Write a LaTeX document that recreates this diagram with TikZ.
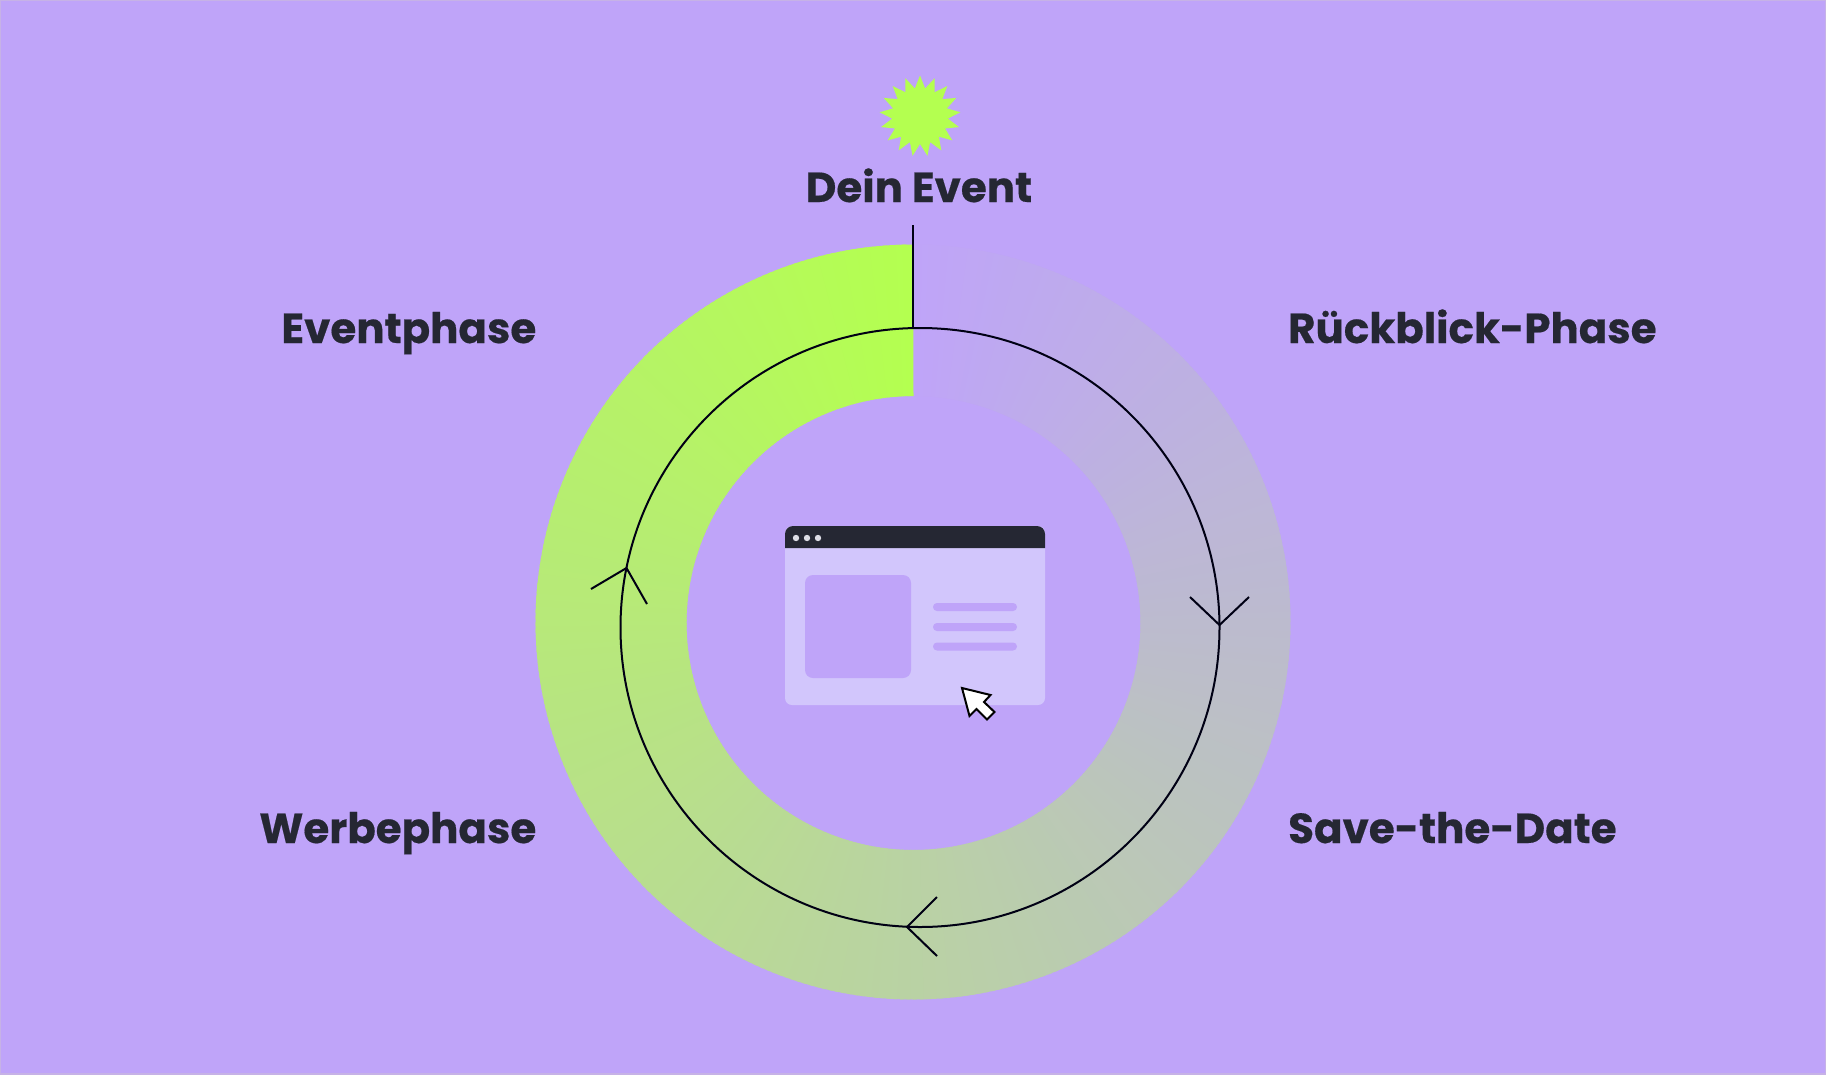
\documentclass[tikz,border=0pt]{standalone}
\usepackage{fontspec}
\setmainfont{Poppins}[BoldFont={Poppins Bold},BoldFeatures={FakeBold=0.4}]
\definecolor{bgc}{HTML}{BFA4F9}
\definecolor{edgec}{HTML}{C6B2E6}
\definecolor{lime}{HTML}{B4FF50}
\definecolor{ink}{HTML}{252733}
\definecolor{pane}{HTML}{D2C6FC}
\definecolor{dotc}{HTML}{DDDDE6}
\tikzset{
  label text/.style={font=\fontsize{42}{42}\selectfont\bfseries,text=ink,inner sep=0pt},
  cycle line/.style={draw=black!92!blue,line width=2pt},
}
\begin{document}
\begin{tikzpicture}[x=1pt,y=-1pt]
\useasboundingbox (0,0) rectangle (1826,1074);
\fill[bgc] (0,0) rectangle (1826,1074);
\draw[edgec,line width=2pt] (0,0) rectangle (1826,1074);
% gradient ring
\foreach \t in {359,358,...,0}{
  \pgfmathsetmacro\pct{100-\t/3.6}
  \pgfmathsetmacro\aa{90+\t}
  \pgfmathsetmacro\ab{90+\t+1.6}
  \fill[lime!\pct!bgc]
    ({913+377.5*cos(\aa)},{622-377.5*sin(\aa)}) --
    ({913+377.5*cos(\ab)},{622-377.5*sin(\ab)}) --
    ({913.5+227*cos(\ab)},{623-227*sin(\ab)}) --
    ({913.5+227*cos(\aa)},{623-227*sin(\aa)}) -- cycle;
}
% star
\fill[lime] (920,75.5)
  \foreach \k in {0,...,16}{
    -- ({920+28*cos(90+(\k+.5)*21.1765)},{116-28*sin(90+(\k+.5)*21.1765)})
    -- ({920+40.5*cos(90+(\k+1)*21.1765)},{116-40.5*sin(90+(\k+1)*21.1765)})
  } -- cycle;
% labels
\node[label text,anchor=base] (event) at (919,202) {Dein Event};
\node[label text,anchor=base east] (eventphase) at (536.5,343) {Eventphase};
\node[label text,anchor=base west] (rueckblick) at (1288,343) {Rückblick-Phase};
\node[label text,anchor=base east] (werbe) at (536.5,843) {Werbephase};
\node[label text,anchor=base west] (save) at (1288,843) {Save-the-Date};
% cycle path
\node[circle,cycle line,inner sep=0pt,minimum size=599pt] (loop) at (920,627.5) {};
\coordinate (linetop) at (913,225);
\coordinate (linebot) at (913,328);
\coordinate (pright) at (1219.5,625);
\coordinate (pbottom) at (907,927);
\coordinate (pleft) at (626.5,568);
\coordinate (r1) at (1190,597);
\coordinate (r2) at (1249,597);
\coordinate (b1) at (937,897);
\coordinate (b2) at (937,956);
\coordinate (l1) at (591,589);
\coordinate (l2) at (647,604);
\draw[cycle line] (linetop) -- (linebot);
\draw[cycle line] (r1) -- (pright) -- (r2);
\draw[cycle line] (b1) -- (pbottom) -- (b2);
\draw[cycle line] (l1) -- (pleft) -- (l2);
% browser window
\fill[pane,rounded corners=7pt] (785,526) rectangle (1045,705);
\fill[ink] (785,548) [rounded corners=8pt] -- (785,526) -- (1045,526) [sharp corners] -- (1045,548) -- cycle;
\foreach \x in {796,807,818}{\fill[dotc] (\x,538) circle[radius=3.2pt];}
\fill[bgc,rounded corners=8pt] (805,575) rectangle (911,678);
\foreach \y in {607,627,646.5}{\fill[bgc,rounded corners=3.9pt] (933,\y-4) rectangle (1017,\y+4);}
% cursor
\draw[black,fill=white,line width=2pt,line join=miter]
  (962,688) -- (990.5,695) -- (984,702) -- (994.5,712) -- (987,719.5) -- (976.5,709) -- (969.5,716) -- cycle;
\end{tikzpicture}
\end{document}
